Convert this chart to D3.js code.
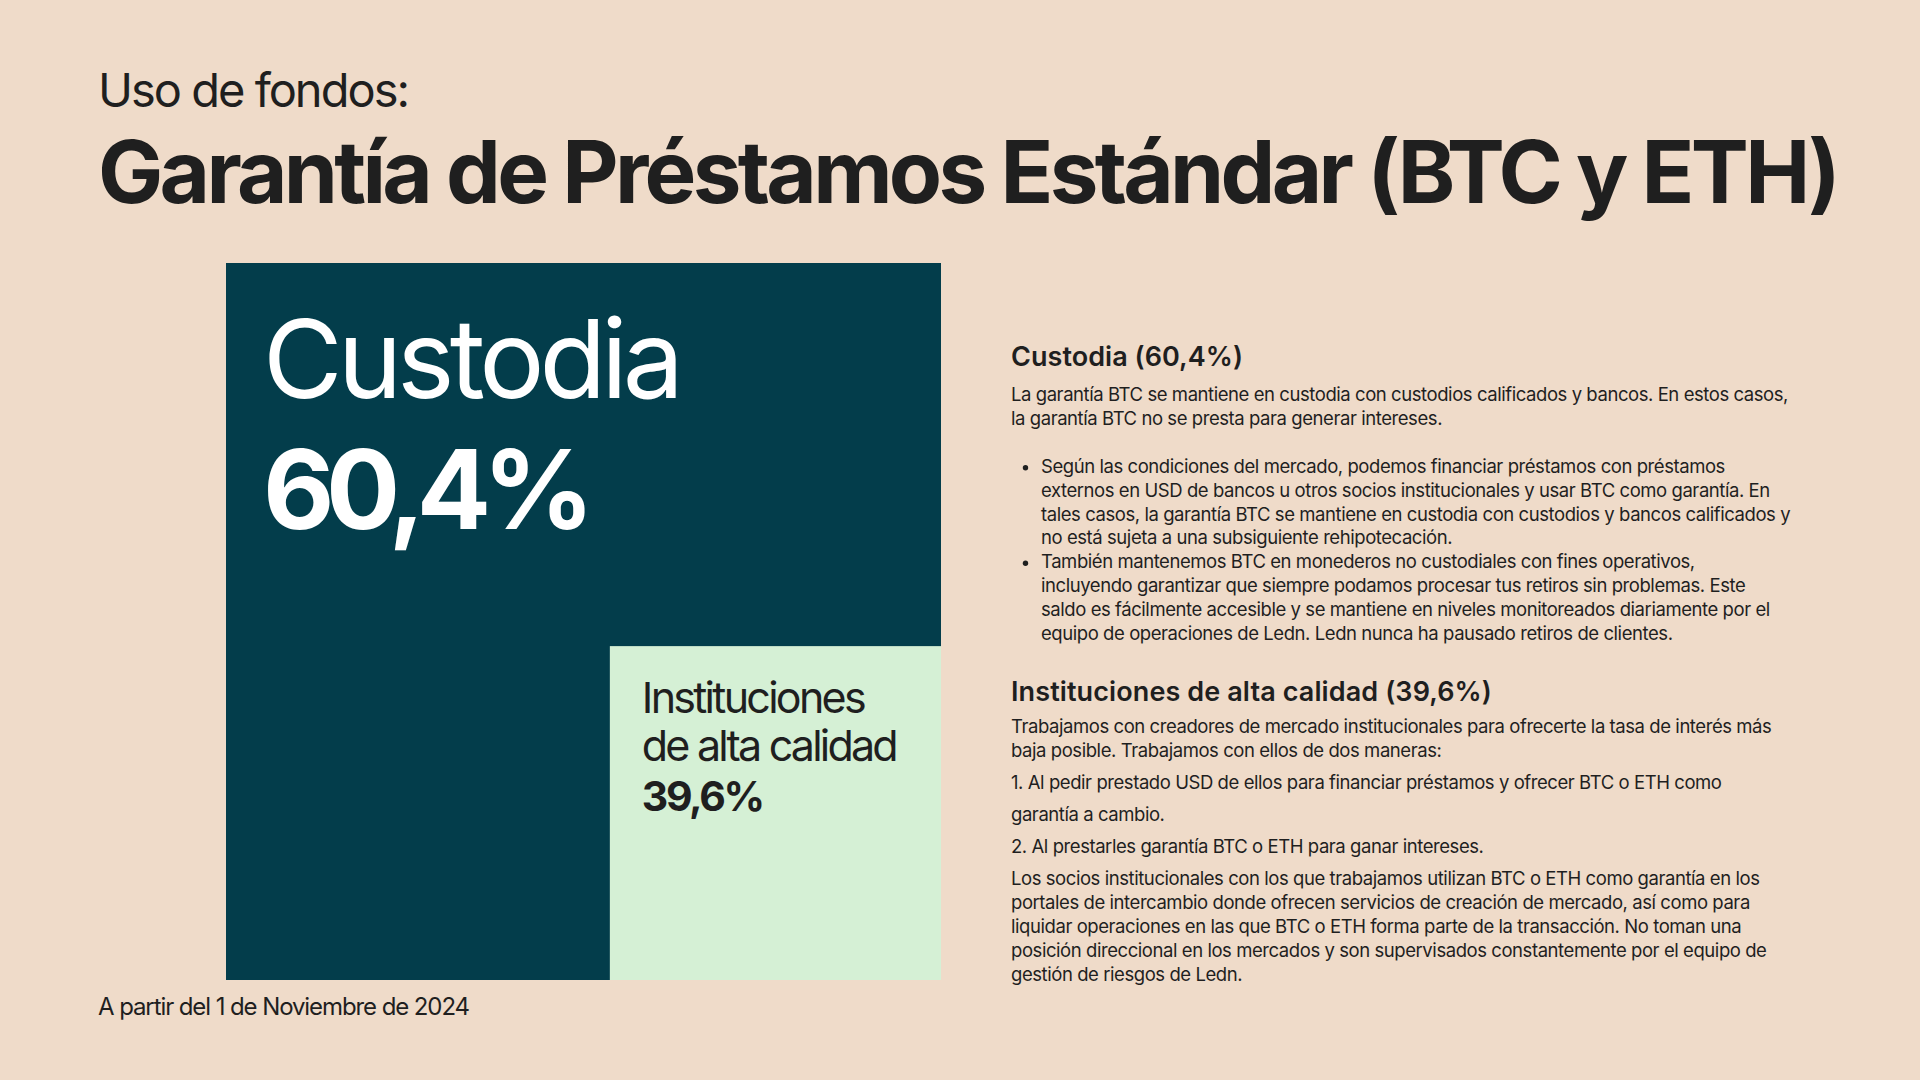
<!DOCTYPE html>
<html>
<head>
<meta charset="utf-8">
<script src="https://cdn.jsdelivr.net/npm/d3@7"></script>
<style>
  html, body { margin: 0; padding: 0; background: #efdbc9; }
  svg { display: block; font-family: Inter, "Noto Sans", sans-serif; }
</style>
</head>
<body>
<div class="board"></div>
<script>
// shares of the collateral
var categories = ['Custodia', 'Instituciones de alta calidad'];
var shares = [60.4, 39.6];
var boxLabels = [['Custodia'], ['Instituciones', 'de alta calidad']];

var custodiaPara = [
  'La garantía BTC se mantiene en custodia con custodios calificados y bancos. En estos casos,',
  'la garantía BTC no se presta para generar intereses.'
];
var custodiaBullets = [
  ['Según las condiciones del mercado, podemos financiar préstamos con préstamos',
   'externos en USD de bancos u otros socios institucionales y usar BTC como garantía. En',
   'tales casos, la garantía BTC se mantiene en custodia con custodios y bancos calificados y',
   'no está sujeta a una subsiguiente rehipotecación.'],
  ['También mantenemos BTC en monederos no custodiales con fines operativos,',
   'incluyendo garantizar que siempre podamos procesar tus retiros sin problemas. Este',
   'saldo es fácilmente accesible y se mantiene en niveles monitoreados diariamente por el',
   'equipo de operaciones de Ledn. Ledn nunca ha pausado retiros de clientes.']
];
var instLines = [
  'Trabajamos con creadores de mercado institucionales para ofrecerte la tasa de interés más',
  'baja posible. Trabajamos con ellos de dos maneras:',
  '1. Al pedir prestado USD de ellos para financiar préstamos y ofrecer BTC o ETH como',
  'garantía a cambio.',
  '2. Al prestarles garantía BTC o ETH para ganar intereses.',
  'Los socios institucionales con los que trabajamos utilizan BTC o ETH como garantía en los',
  'portales de intercambio donde ofrecen servicios de creación de mercado, así como para',
  'liquidar operaciones en las que BTC o ETH forma parte de la transacción. No toman una',
  'posición direccional en los mercados y son supervisados constantemente por el equipo de',
  'gestión de riesgos de Ledn.'
];
var instGaps = [0, 24, 32, 32, 32, 32, 24, 24, 24, 24];

var width = 1920, height = 1080;
var ink = '#1f1f1f';
var fmt = function(v) { return String(v).replace('.', ',') + '%'; };

// make a text line as wide as the reference by nudging letter spacing
var fit = function(sel, target) {
  var w = sel.node().getComputedTextLength();
  var ls = (target - w) / sel.text().length;
  sel.attr('letter-spacing', ls);
  return ls;
};

var draw = function() {
  var svg = d3.select('.board').append('svg')
    .attr('width', width).attr('height', height);

  svg.append('rect').attr('width', width).attr('height', height).attr('fill', '#efdbc9');

  fit(svg.append('text').attr('x', 98).attr('y', 107).attr('font-size', 47)
    .attr('fill', ink).text('Uso de fondos:'), 310);
  fit(svg.append('text').attr('x', 98).attr('y', 203).attr('font-size', 87).attr('font-weight', 700)
    .attr('fill', ink).text('Garantía de Préstamos Estándar (BTC y ETH)'), 1736);

  // square block: whole = 100%, smaller share drawn as a bottom-right square
  var box = { x: 226, y: 263, w: 715, h: 717 };
  var total = d3.sum(shares);
  var sideX = d3.scaleSqrt().domain([0, total]).range([0, box.w * 0.736]);
  var sideY = d3.scaleSqrt().domain([0, total]).range([0, box.h * 0.74]);
  var colour = d3.scaleOrdinal().domain(categories).range(['#033d4b', '#d5f0d5']);

  var cells = [
    { name: categories[0], x: box.x, y: box.y, w: box.w, h: box.h },
    { name: categories[1], x: box.x + box.w - sideX(shares[1]), y: box.y + box.h - sideY(shares[1]),
      w: sideX(shares[1]), h: sideY(shares[1]) }
  ];
  svg.selectAll('rect.cell').data(cells).enter().append('rect')
    .attr('class', 'cell')
    .attr('x', (d) => d.x).attr('y', (d) => d.y)
    .attr('width', (d) => d.w).attr('height', (d) => d.h)
    .attr('fill', (d) => colour(d.name));

  // big labels
  var c0 = cells[0], c1 = cells[1];
  fit(svg.append('text').attr('x', c0.x + 37).attr('y', c0.y + 135).attr('font-size', 109)
    .attr('fill', '#fff').text(boxLabels[0][0]), 416);
  fit(svg.append('text').attr('x', c0.x + 37).attr('y', c0.y + 266).attr('font-size', 110)
    .attr('font-weight', 700).attr('fill', '#fff').text(fmt(shares[0])), 323);

  var lx = c1.x + 32;
  fit(svg.append('text').attr('x', lx).attr('y', c1.y + 67).attr('font-size', 43)
    .attr('fill', ink).text(boxLabels[1][0]), 222);
  fit(svg.append('text').attr('x', lx).attr('y', c1.y + 115).attr('font-size', 43)
    .attr('fill', ink).text(boxLabels[1][1]), 254);
  fit(svg.append('text').attr('x', lx).attr('y', c1.y + 165).attr('font-size', 41)
    .attr('font-weight', 700).attr('fill', ink).text(fmt(shares[1])), 121);

  // right column
  var tx = 1011;
  fit(svg.append('text').attr('x', tx).attr('y', 366).attr('font-size', 27).attr('font-weight', 600)
    .attr('fill', ink).text(categories[0] + ' (' + fmt(shares[0]) + ')'), 232);

  var body = svg.append('g').attr('font-size', 18.5).attr('fill', ink);
  var ref = body.append('text').attr('x', tx).attr('y', 400.7).text(custodiaPara[0]);
  var ls = fit(ref, 777);
  body.append('text').attr('x', tx).attr('y', 425).attr('letter-spacing', ls).text(custodiaPara[1]);

  var y = 472.7;
  custodiaBullets.forEach(function(lines) {
    body.append('circle').attr('cx', 1025.5).attr('cy', y - 5).attr('r', 2.7).attr('fill', ink);
    lines.forEach(function(line) {
      body.append('text').attr('x', 1041).attr('y', y).attr('letter-spacing', ls).text(line);
      y += 23.9;
    });
  });

  fit(svg.append('text').attr('x', tx).attr('y', 700.7).attr('font-size', 27).attr('font-weight', 600)
    .attr('fill', ink).text(categories[1] + ' (' + fmt(shares[1]) + ')'), 481);

  y = 732.7;
  instLines.forEach(function(line, i) {
    y += instGaps[i];
    body.append('text').attr('x', tx).attr('y', y).attr('letter-spacing', ls).text(line);
  });

  fit(svg.append('text').attr('x', 98).attr('y', 1015).attr('font-size', 24)
    .attr('fill', ink).text('A partir del 1 de Noviembre de 2024'), 371);
};

if (document.fonts && document.fonts.ready) {
  document.fonts.ready.then(draw);
} else {
  draw();
}
</script>
</body>
</html>
